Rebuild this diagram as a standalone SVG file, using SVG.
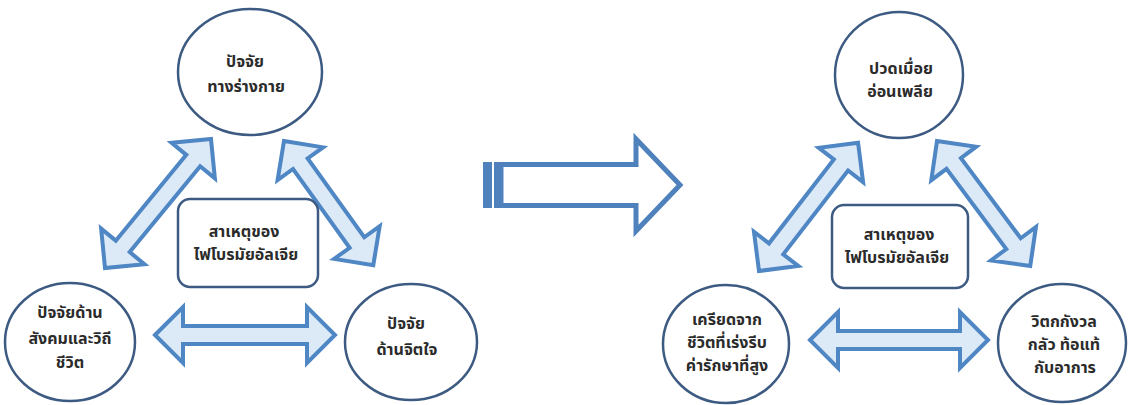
<svg xmlns="http://www.w3.org/2000/svg" width="1131" height="405" viewBox="0 0 1131 405">
<style>
.c{fill:#ffffff;stroke:#3d5b82;stroke-width:2.5}
.b{fill:#ffffff;stroke:#3d5b82;stroke-width:2.5}
.dbl{fill:#dce9f7;stroke:#4f86c4;stroke-width:4;stroke-linejoin:miter}
.big{fill:#ffffff;stroke:#4f81bd;stroke-width:5;stroke-linejoin:miter}
.bar{fill:#4f81bd}
text{font-family:"Noto Sans Thai","Noto Sans",sans-serif;font-size:16px;font-weight:bold;fill:#2b2b2b;text-anchor:middle}
</style>
<rect width="1131" height="405" fill="#ffffff"/>
<g id="connectors">
<path class="dbl" transform="translate(155,335)" d="M0,0 L28,-28 L28,-9 L152,-9 L152,-28 L180,0 L152,28 L152,9 L28,9 L28,28 Z"/>
<path class="dbl" transform="translate(105,268) rotate(-50.6)" d="M0,0 L28,-28 L28,-9 L139,-9 L139,-28 L167,0 L139,28 L139,9 L28,9 L28,28 Z"/>
<path class="dbl" transform="translate(284,141) rotate(54.3)" d="M0,0 L28,-28 L28,-9 L125,-9 L125,-28 L153,0 L125,28 L125,9 L28,9 L28,28 Z"/>
<path class="dbl" transform="translate(810,340)" d="M0,0 L28,-28 L28,-9 L150,-9 L150,-28 L178,0 L150,28 L150,9 L28,9 L28,28 Z"/>
<path class="dbl" transform="translate(759,271) rotate(-52.3)" d="M0,0 L28,-28 L28,-9 L134,-9 L134,-28 L162,0 L134,28 L134,9 L28,9 L28,28 Z"/>
<path class="dbl" transform="translate(937,141) rotate(53.3)" d="M0,0 L28,-28 L28,-9 L128,-9 L128,-28 L156,0 L128,28 L128,9 L28,9 L28,28 Z"/>
</g>
<g id="big-arrow">
<path class="big" d="M501,164.5 L636,164.5 L636,139 L680,185 L636,231 L636,205.5 L501,205.5 Z"/>
<rect class="bar" x="483" y="162" width="9" height="46"/>
<rect class="bar" x="494" y="162" width="8" height="46"/>
</g>
<g id="left-top">
<ellipse class="c" cx="250" cy="72" rx="72" ry="63"/>
<text x="245" y="67">ปัจจัย</text>
<text x="246" y="92">ทางร่างกาย</text>
</g>
<g id="left-bottom-left">
<ellipse class="c" cx="70" cy="342" rx="65" ry="59"/>
<text x="70" y="318">ปัจจัยด้าน</text>
<text x="70" y="344">สังคมและวิถี</text>
<text x="70" y="368">ชีวิต</text>
</g>
<g id="left-bottom-right">
<ellipse class="c" cx="411" cy="342" rx="66" ry="58"/>
<text x="406" y="329">ปัจจัย</text>
<text x="407" y="355">ด้านจิตใจ</text>
</g>
<g id="left-center">
<rect class="b" x="178" y="199" width="140" height="88" rx="12"/>
<text x="244" y="237">สาเหตุของ</text>
<text x="246" y="260">ไฟโบรมัยอัลเจีย</text>
</g>
<g id="right-top">
<ellipse class="c" cx="899" cy="75" rx="64" ry="63"/>
<text x="901" y="74">ปวดเมื่อย</text>
<text x="900" y="97">อ่อนเพลีย</text>
</g>
<g id="right-bottom-left">
<ellipse class="c" cx="726" cy="344" rx="63" ry="59"/>
<text x="727" y="325">เครียดจาก</text>
<text x="727" y="348">ชีวิตที่เร่งรีบ</text>
<text x="727" y="371">ค่ารักษาที่สูง</text>
</g>
<g id="right-bottom-right">
<ellipse class="c" cx="1062" cy="343" rx="64" ry="59"/>
<text x="1064" y="327">วิตกกังวล</text>
<text x="1064" y="350">กลัว ท้อแท้</text>
<text x="1065" y="373">กับอาการ</text>
</g>
<g id="right-center">
<rect class="b" x="832" y="205" width="136" height="83" rx="12"/>
<text x="899" y="240">สาเหตุของ</text>
<text x="897" y="263">ไฟโบรมัยอัลเจีย</text>
</g>
</svg>
